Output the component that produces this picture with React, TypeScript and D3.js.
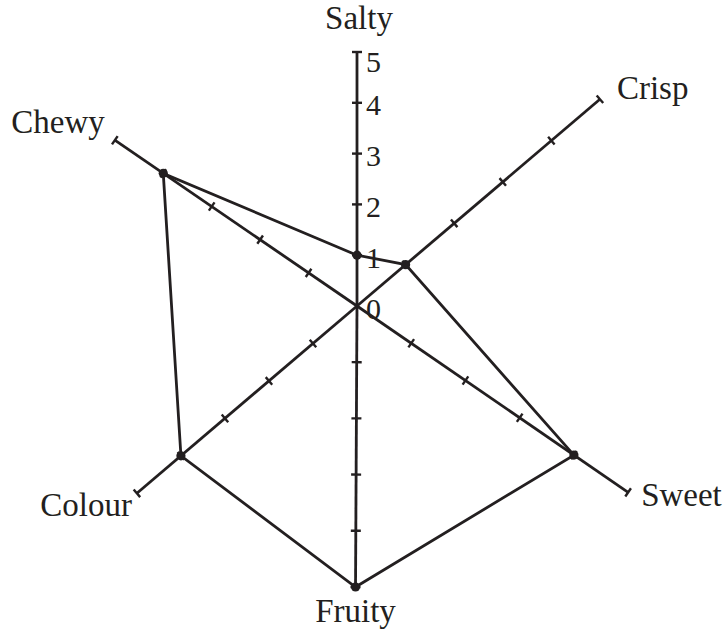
import * as d3 from "d3";

// chart data
const CATEGORIES = ["Salty", "Crisp", "Sweet", "Fruity", "Colour", "Chewy"];
const VALUES = [1, 1, 4, 5, 4, 4];
const TICK_VALUES = [0, 1, 2, 3, 4, 5];
const TICK_LABELS = ["0", "1", "2", "3", "4", "5"];

// layout of the (hand drawn looking) axes
const WIDTH = 725;
const HEIGHT = 629;
const CX = 357;
const CY = 306;
const AXIS_ANGLES = [90, 40.4, -34.5, -90.3, 220.4, 145.6];
const AXIS_LENGTHS = [254, 319, 329, 281, 289, 293.5];
const LABEL_DX = [2, 17, 13, 0, -5, -10];
const LABEL_DY = [-23, 0, 14, 35, 23, -7];
const LABEL_ANCHOR = ["middle", "start", "start", "middle", "end", "end"];

const INK = "#231f20";
const FONT = "Liberation Serif";

export default function App() {
  const scales = AXIS_LENGTHS.map((len) =>
    d3.scaleLinear().domain([0, 5]).range([0, len])
  );

  const point = (i: number, v: number): [number, number] => {
    const a = (AXIS_ANGLES[i] * Math.PI) / 180;
    const r = scales[i](v);
    return [CX + r * Math.cos(a), CY - r * Math.sin(a)];
  };

  const polyPoints = VALUES.map((v, i) => point(i, v));
  const line = d3.line().curve(d3.curveLinearClosed);

  const tickHalf = 5;

  return (
    <svg
      width={WIDTH}
      height={HEIGHT}
      style={{ position: "absolute", left: 0, top: 0, background: "#fff" }}
    >
      <g stroke={INK} strokeWidth={2.8} fill="none">
        {CATEGORIES.map((c, i) => {
          const [x2, y2] = point(i, 5);
          return <line key={c} x1={CX} y1={CY} x2={x2} y2={y2} />;
        })}
        {CATEGORIES.map((c, i) => {
          const a = (AXIS_ANGLES[i] * Math.PI) / 180;
          // perpendicular direction
          const px = Math.sin(a);
          const py = Math.cos(a);
          return TICK_VALUES.filter((t) => t > 0).map((t) => {
            const [x, y] = point(i, t);
            return (
              <line
                key={c + t}
                x1={x - px * tickHalf}
                y1={y - py * tickHalf}
                x2={x + px * tickHalf}
                y2={y + py * tickHalf}
                strokeWidth={2.4}
              />
            );
          });
        })}
        <path d={line(polyPoints) || ""} strokeLinejoin="miter" />
      </g>
      <g fill={INK}>
        {polyPoints.map(([x, y], i) => (
          <circle key={i} cx={x} cy={y} r={4.6} />
        ))}
      </g>
      <g fill={INK} fontFamily={FONT} fontSize={30}>
        {TICK_VALUES.map((t, k) => {
          const [, y] = point(0, t);
          const top = point(0, 5)[1];
          return (
            <text
              key={t}
              x={CX + 9}
              y={Math.max(y + 2, top + 9)}
              dominantBaseline="central"
            >
              {TICK_LABELS[k]}
            </text>
          );
        })}
      </g>
      <g fill={INK} fontFamily={FONT} fontSize={33}>
        {CATEGORIES.map((c, i) => {
          const [x, y] = point(i, 5);
          return (
            <text
              key={c}
              x={x + LABEL_DX[i]}
              y={y + LABEL_DY[i]}
              textAnchor={LABEL_ANCHOR[i]}
            >
              {c}
            </text>
          );
        })}
      </g>
    </svg>
  );
}
